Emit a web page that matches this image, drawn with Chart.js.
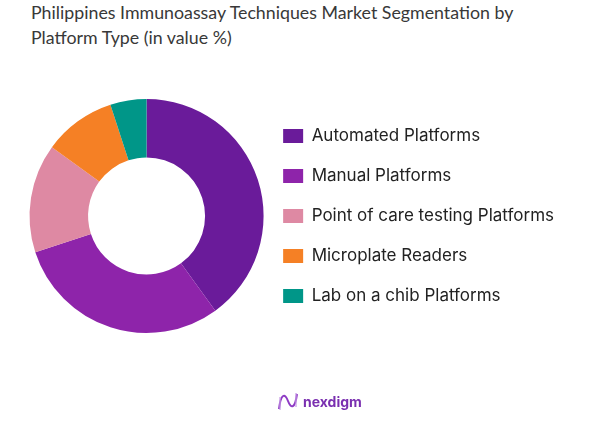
<!DOCTYPE html>
<html lang="en">
<head>
    <meta charset="UTF-8">
    <title>Philippines Immunoassay Techniques Market Segmentation</title>
    <script src="https://cdn.jsdelivr.net/npm/chart.js"></script>
    <style>
        body {
            margin: 0;
            background: #fff;
            font-family: Inter, sans-serif;
        }
        #wrap {
            position: relative;
            width: 606px;
            height: 422px;
        }
        #title {
            position: absolute;
            left: 31px;
            top: 0;
            font-family: Lato, sans-serif;
            font-size: 17.8px;
            line-height: 25px;
            color: #383838;
        }
        #logo {
            position: absolute;
            left: 277px;
            top: 391px;
            display: flex;
            align-items: center;
            color: #7a2fb0;
            font-weight: 700;
            font-size: 14px;
        }
        #logo svg { margin-right: 4px; }
        canvas { position: absolute; left: 0; top: 0; }
    </style>
</head>
<body>
<div id="wrap">
    <div id="title">Philippines Immunoassay Techniques Market Segmentation by<br>Platform Type (in value %)</div>
    <canvas id="platformChart" width="606" height="422"></canvas>
    <div id="logo">
        <svg width="22" height="21" viewBox="0 0 22 21">
            <path d="M2 18 C4 2, 8 2, 11 10 C14 18, 18 18, 20 3" fill="none" stroke="#8e3bc4" stroke-width="2"/>
            <path d="M3 19 L3 6 M19 2 L19 16" fill="none" stroke="#c79ae6" stroke-width="1.2"/>
        </svg>
        <span>nexdigm</span>
    </div>
</div>
<script>
    const platforms = [
        'Automated Platforms',
        'Manual Platforms',
        'Point of care testing Platforms',
        'Microplate Readers',
        'Lab on a chib Platforms'
    ];
    const shares = [40, 30, 15, 10, 5];
    const sliceColors = ['#6a1b9a', '#8e24aa', '#de89a3', '#f58025', '#009688'];

    const legendFont = { family: 'Inter', size: 17 };
    const legendPad = 23;
    const legendBox = 20;
    const legendLeft = 283 - legendPad; // where the legend box should start

    // width of the longest label, so the legend keeps its full width
    const meas = document.createElement('canvas').getContext('2d');
    meas.font = legendFont.size + 'px ' + legendFont.family;
    const longest = Math.max(...platforms.map(p => meas.measureText(p).width));
    const legendWidth = legendPad + legendBox + legendFont.size / 2 + longest + 10;

    const ctx = document.getElementById('platformChart').getContext('2d');
    new Chart(ctx, {
        type: 'doughnut',
        data: {
            labels: platforms,
            datasets: [{
                data: shares,
                backgroundColor: sliceColors,
                borderWidth: 0,
                hoverOffset: 0
            }]
        },
        options: {
            responsive: false,
            animation: false,
            radius: 117,
            cutout: '50%',
            layout: {
                padding: {
                    left: 33,
                    right: Math.round(606 - legendLeft - legendWidth),
                    top: 98,
                    bottom: 88
                }
            },
            plugins: {
                tooltip: { enabled: false },
                legend: {
                    position: 'right',
                    align: 'center',
                    maxWidth: 400,
                    labels: {
                        boxWidth: legendBox,
                        boxHeight: 14,
                        padding: legendPad,
                        color: '#222',
                        font: legendFont
                    }
                }
            }
        }
    });
</script>
</body>
</html>
